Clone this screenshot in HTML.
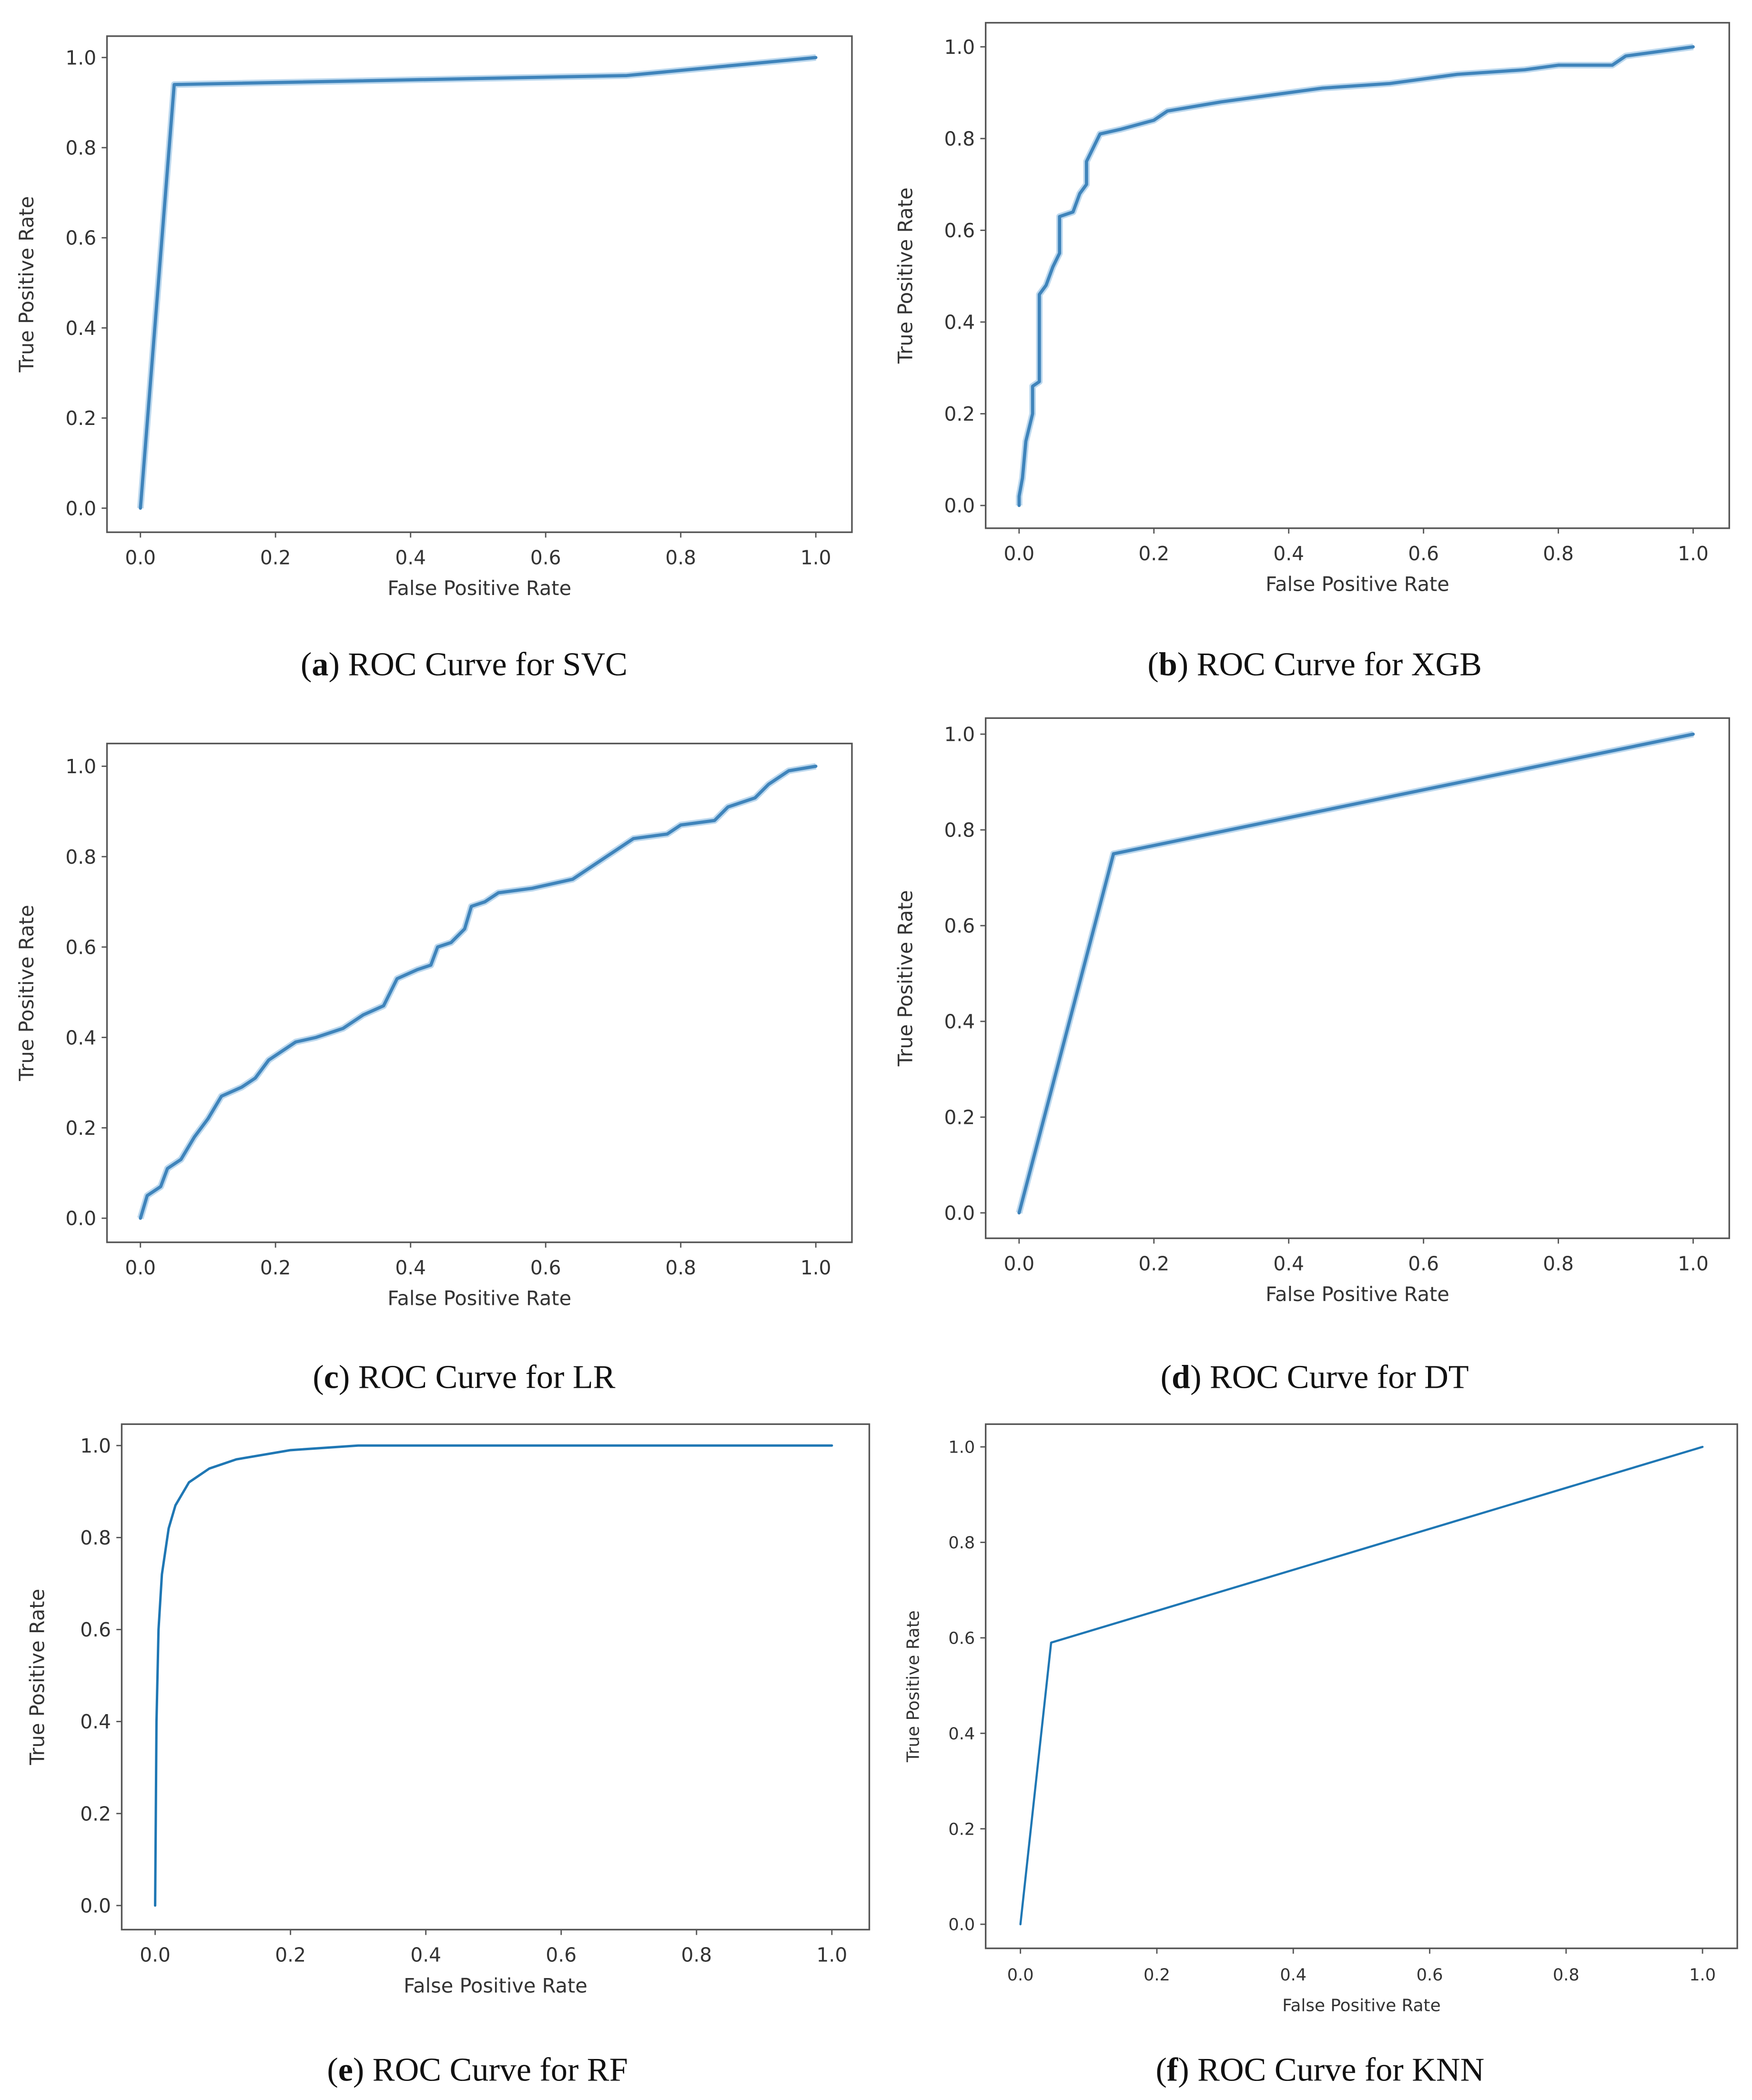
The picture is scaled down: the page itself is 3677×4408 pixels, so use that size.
<!DOCTYPE html>
<html><head><meta charset="utf-8"><style>
html,body{margin:0;padding:0;background:#fff}
svg{display:block}
</style></head><body>
<svg id="fig" width="3677" height="4408" viewBox="0 0 1310 1570.4" xmlns="http://www.w3.org/2000/svg"></svg>
<script>
const tickValues = [0, 0.2, 0.4, 0.6, 0.8, 1.0];
const tickLabels = ["0.0", "0.2", "0.4", "0.6", "0.8", "1.0"];
const fprSVC = [0, 0.05, 0.72, 1];
const tprSVC = [0, 0.94, 0.96, 1];
const fprXGB = [0,0,0.005,0.01,0.02,0.02,0.03,0.03,0.04,0.05,0.06,0.06,0.08,0.09,0.1,0.1,0.11,0.12,0.15,0.2,0.22,0.3,0.4,0.45,0.55,0.65,0.75,0.8,0.88,0.9,0.95,1];
const tprXGB = [0,0.02,0.06,0.14,0.2,0.26,0.27,0.46,0.48,0.52,0.55,0.63,0.64,0.68,0.7,0.75,0.78,0.81,0.82,0.84,0.86,0.88,0.9,0.91,0.92,0.94,0.95,0.96,0.96,0.98,0.99,1];
const fprLR = [0,0.01,0.03,0.04,0.06,0.08,0.1,0.12,0.15,0.17,0.19,0.21,0.23,0.26,0.3,0.33,0.36,0.38,0.41,0.43,0.44,0.46,0.48,0.49,0.51,0.53,0.58,0.64,0.67,0.7,0.73,0.78,0.8,0.85,0.87,0.91,0.93,0.96,1];
const tprLR = [0,0.05,0.07,0.11,0.13,0.18,0.22,0.27,0.29,0.31,0.35,0.37,0.39,0.4,0.42,0.45,0.47,0.53,0.55,0.56,0.6,0.61,0.64,0.69,0.7,0.72,0.73,0.75,0.78,0.81,0.84,0.85,0.87,0.88,0.91,0.93,0.96,0.99,1];
const fprDT = [0, 0.14, 1];
const tprDT = [0, 0.75, 1];
const fprRF = [0,0.002,0.005,0.01,0.02,0.03,0.05,0.08,0.12,0.2,0.3,1];
const tprRF = [0,0.4,0.6,0.72,0.82,0.87,0.92,0.95,0.97,0.99,1,1];
const fprKNN = [0, 0.045, 1];
const tprKNN = [0, 0.59, 1];

const NS = "http://www.w3.org/2000/svg";
const svg = document.getElementById('fig');
function mk(tag, attrs, parent){
  const e = document.createElementNS(NS, tag);
  for (const k in attrs) e.setAttribute(k, attrs[k]);
  (parent||svg).appendChild(e); return e;
}
function panel(p){
  const g = mk('g', {});
  
  
  const sx = v => p.x0 + v*(p.x1-p.x0);
  const sy = v => p.y0 + v*(p.y1-p.y0);
  const frame = mk('rect', {x:p.bl, y:p.bt, width:p.br-p.bl, height:p.bb-p.bt, fill:'none', stroke:'#555', 'stroke-width':1.2}, g);
  
  
  tickValues.forEach((v,i)=>{
    const x = sx(v);
    mk('line',{x1:x,x2:x,y1:p.bb,y2:p.bb+4,stroke:'#555','stroke-width':1},g);
    const t = mk('text',{x:x,y:p.bb+24,'text-anchor':'middle','font-size':p.fs,fill:'#333','font-family':'"DejaVu Sans","Liberation Sans",sans-serif'},g);
    t.textContent = tickLabels[i];
    
    
    const y = sy(v);
    mk('line',{x1:p.bl,x2:p.bl-4,y1:y,y2:y,stroke:'#555','stroke-width':1},g);
    const u = mk('text',{x:p.bl-8,y:y+p.fs*0.36,'text-anchor':'end','font-size':p.fs,fill:'#333','font-family':'"DejaVu Sans","Liberation Sans",sans-serif'},g);
    u.textContent = tickLabels[i];
    
    
  });
  const xl = mk('text',{x:(p.bl+p.br)/2,y:p.bb+47,'text-anchor':'middle','font-size':p.fs*1.02,fill:'#333','font-family':'"DejaVu Sans","Liberation Sans",sans-serif'},g);
  xl.textContent = 'False Positive Rate';
  
  
  const cy = (p.bt+p.bb)/2, cx = p.bl-p.ylo;
  const yl = mk('text',{x:cx,y:cy,'text-anchor':'middle','font-size':p.fs*1.02,fill:'#333','font-family':'"DejaVu Sans","Liberation Sans",sans-serif',transform:'rotate(-90 '+cx+' '+cy+')'},g);
  yl.textContent = 'True Positive Rate';
  
  
  let d = '';
  p.fx.forEach((v,i)=>{ d += (i?'L':'M') + sx(v).toFixed(2) + ' ' + sy(p.fy[i]).toFixed(2); });
  if (p.glow) mk('path',{d:d,fill:'none',stroke:'#bcd8ee','stroke-width':p.lw+2.5,'stroke-linejoin':'round'},g);
  const line = mk('path',{d:d,fill:'none',stroke:p.col,'stroke-width':p.lw,'stroke-linejoin':'round','stroke-linecap':'round'},g);
  
  
  const cap = mk('text',{x:p.capx,y:p.capy,'text-anchor':'middle','font-size':25,fill:'#111','font-family':'"Liberation Serif",serif'},g);
  cap.innerHTML = '(<tspan font-weight="bold">' + p.letter + '</tspan>) ROC Curve for ' + p.id.toUpperCase();
  
  
}
panel({id:'svc',letter:'a',bl:80,br:637,bt:27,bb:398,x0:105,x1:610,y0:380,y1:43,fx:fprSVC,fy:tprSVC,capx:347,capy:505,col:'#3f84bb',lw:2.4,glow:true,fs:14.5,ylo:55});
panel({id:'xgb',letter:'b',bl:737,br:1293,bt:17,bb:395,x0:762,x1:1266,y0:378,y1:35,fx:fprXGB,fy:tprXGB,capx:983,capy:505,col:'#3f84bb',lw:2.4,glow:true,fs:14.5,ylo:55});
panel({id:'lr',letter:'c',bl:80,br:637,bt:556,bb:929,x0:105,x1:610,y0:911,y1:573,fx:fprLR,fy:tprLR,capx:347,capy:1038,col:'#3f84bb',lw:2.4,glow:true,fs:14.5,ylo:55});
panel({id:'dt',letter:'d',bl:737,br:1293,bt:537,bb:926,x0:762,x1:1266,y0:907,y1:549,fx:fprDT,fy:tprDT,capx:983,capy:1038,col:'#3f84bb',lw:2.4,glow:true,fs:14.5,ylo:55});
panel({id:'rf',letter:'e',bl:91,br:650,bt:1065,bb:1443,x0:116,x1:622,y0:1425,y1:1081,fx:fprRF,fy:tprRF,capx:357,capy:1556,col:'#1f77b4',lw:1.8,glow:false,fs:14.5,ylo:58});
panel({id:'knn',letter:'f',bl:737,br:1299,bt:1065,bb:1457,x0:763,x1:1273,y0:1439,y1:1082,fx:fprKNN,fy:tprKNN,capx:987,capy:1556,col:'#1f77b4',lw:1.6,glow:false,fs:12.5,ylo:50});
</script>
</body></html>
